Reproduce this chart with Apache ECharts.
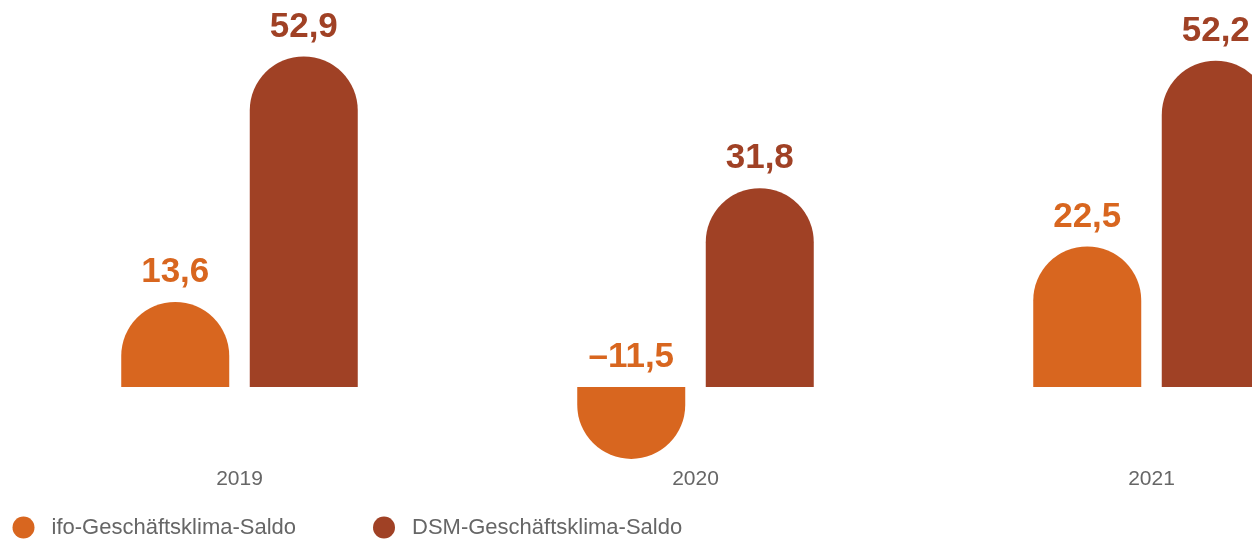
<!DOCTYPE html>
<html>
<head>
<meta charset="utf-8">
<style>
  html, body { margin: 0; padding: 0; background: #ffffff; }
  #chart { width: 1252px; height: 539px; }
</style>
<script src="https://cdn.jsdelivr.net/npm/echarts@6/dist/echarts.min.js"></script>
</head>
<body>
<div id="chart"></div>
<script>
// Business climate balances per year
const years = ['2019', '2020', '2021'];
const ifoValues = [13.6, -11.5, 22.5];
const dsmValues = [52.9, 31.8, 52.2];
const seriesNames = ['ifo-Geschäftsklima-Saldo', 'DSM-Geschäftsklima-Saldo'];

const ORANGE = '#d8661f';
const BROWN = '#a04125';
const FONT = '"Liberation Sans", Arial, Helvetica, sans-serif';
const R = 54;

// Round the outer end of each bar: top for positive, bottom for negative values
function roundedBars(values) {
  return values.map(v => ({
    value: v,
    itemStyle: { borderRadius: v >= 0 ? [R, R, 0, 0] : [0, 0, R, R] }
  }));
}

// German number format with a typographic minus
function fmtValue(p) {
  return String(p.value).replace('.', ',').replace('-', '\u2013');
}

function barLabel(color) {
  return {
    show: true,
    position: 'top',
    distance: 12,
    formatter: fmtValue,
    color: color,
    fontFamily: FONT,
    fontWeight: 'bold',
    fontSize: 35
  };
}

function legendAt(left, name) {
  return {
    left: left,
    top: 516.5,
    padding: 0,
    itemWidth: 22,
    itemHeight: 22,
    icon: 'circle',
    textStyle: { color: '#666666', fontFamily: FONT, fontSize: 22, padding: [0, 0, 0, 12] },
    data: [name]
  };
}

const chart = echarts.init(document.getElementById('chart'), null, { renderer: 'canvas' });
chart.setOption({
  animation: false,
  backgroundColor: '#ffffff',
  // the plot runs past the right edge, so the last group is cut off
  grid: { left: 11.5, width: 1368, top: 12, bottom: 77, containLabel: false, outerBoundsMode: 'none' },
  xAxis: {
    type: 'category',
    data: years,
    axisLine: { show: false },
    axisTick: { show: false },
    axisLabel: { margin: 7, color: '#666666', fontFamily: FONT, fontSize: 21 },
    splitLine: { show: false }
  },
  yAxis: {
    type: 'value',
    min: -12,
    max: 60,
    show: false,
    splitLine: { show: false }
  },
  legend: [legendAt(12.5, seriesNames[0]), legendAt(373, seriesNames[1])],
  series: [
    {
      name: seriesNames[0],
      type: 'bar',
      barWidth: 108,
      barGap: '19%',
      itemStyle: { color: ORANGE },
      label: barLabel(ORANGE),
      data: roundedBars(ifoValues)
    },
    {
      name: seriesNames[1],
      type: 'bar',
      barWidth: 108,
      barGap: '19%',
      itemStyle: { color: BROWN },
      label: barLabel(BROWN),
      data: roundedBars(dsmValues)
    }
  ]
});
</script>
</body>
</html>
